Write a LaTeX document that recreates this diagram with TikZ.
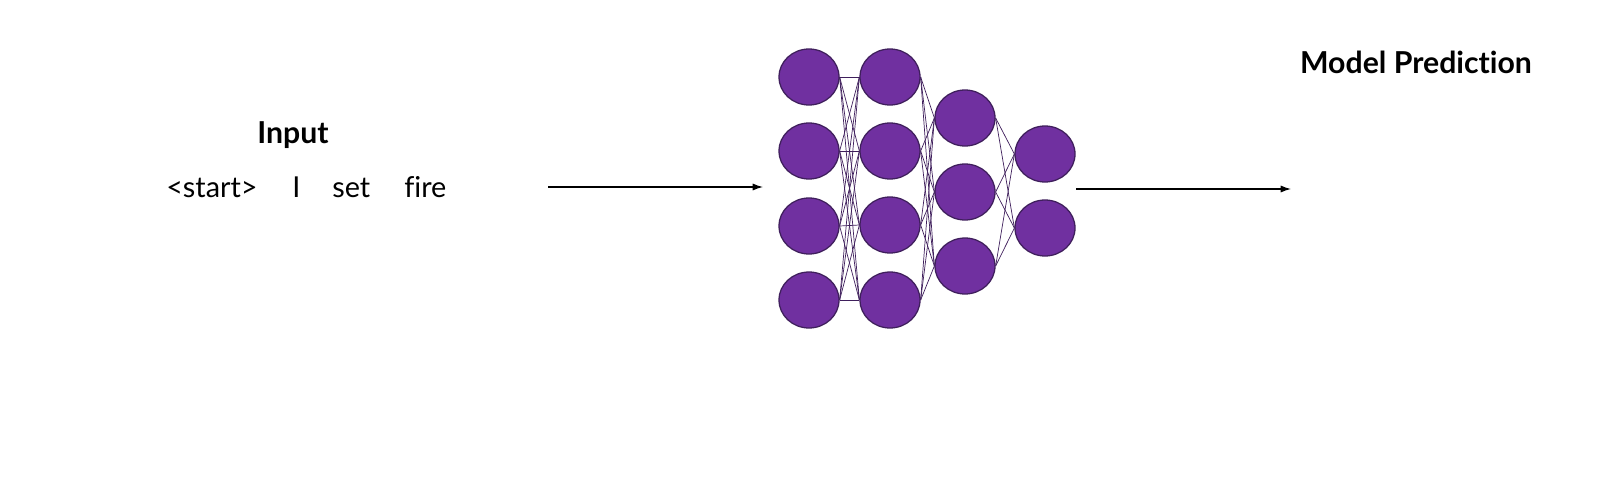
\documentclass[tikz,border=0pt]{standalone}
\usepackage{fontspec}
\setmainfont{Lato}[Ligatures={NoCommon}]
\usetikzlibrary{arrows.meta}
\definecolor{neuron}{HTML}{7030A0}
\definecolor{neuronline}{HTML}{3F1F5C}
\tikzset{
  neuron/.style={ellipse, draw=neuronline, line width=0.9pt, fill=neuron,
    minimum width=15mm, minimum height=14mm, inner sep=0pt},
  synapse/.style={neuronline, line width=0.5pt},
  flow/.style={line width=0.9pt, -{Latex[length=2.6mm,width=1.8mm]}},
  word/.style={anchor=base west, inner sep=0pt, font=\fontsize{20.5}{24}\selectfont},
  title/.style={anchor=base, inner sep=0pt, font=\fontsize{21.5}{26}\selectfont\bfseries}
}
\usetikzlibrary{shapes.geometric}
\begin{document}
\begin{tikzpicture}[x=0.25mm, y=-0.25mm]
  \useasboundingbox (0,0) rectangle (1600,480);
  % Entree
  \node[title] (input) at (293,143) {Input};
  \node[word] (tstart) at (166,197) {<start>};
  \node[word] (tI) at (292,197) {I};
  \node[word] (tset) at (332,197) {set};
  \node[word] (tfire) at (404,197) {fire};
  % Reseau
  \foreach \y [count=\i] in {77,151,226,300}
    \node[neuron] (a\i) at (809,\y) {};
  \foreach \y [count=\i] in {77,151,225,300}
    \node[neuron] (b\i) at (890,\y) {};
  \foreach \y [count=\i] in {118,192,266}
    \node[neuron] (c\i) at (965,\y) {};
  \foreach \y [count=\i] in {154,228}
    \node[neuron] (d\i) at (1045,\y) {};
  % Connexions
  \foreach \i in {1,...,4}
    \foreach \j in {1,...,4}
      \draw[synapse] (a\i.east) -- (b\j.west);
  \foreach \i in {1,...,4}
    \foreach \j in {1,...,3}
      \draw[synapse] (b\i.east) -- (c\j.west);
  \foreach \i in {1,...,3}
    \foreach \j in {1,2}
      \draw[synapse] (c\i.east) -- (d\j.west);
  % Fleches
  \coordinate (inA) at (548,187);
  \coordinate (inB) at (763,187);
  \coordinate (outA) at (1076,189);
  \coordinate (outB) at (1291,189);
  \draw[flow] (inA) -- (inB);
  \draw[flow] (outA) -- (outB);
  % Sortie
  \node[title] (pred) at (1416,73) {Model Prediction};
\end{tikzpicture}
\end{document}
